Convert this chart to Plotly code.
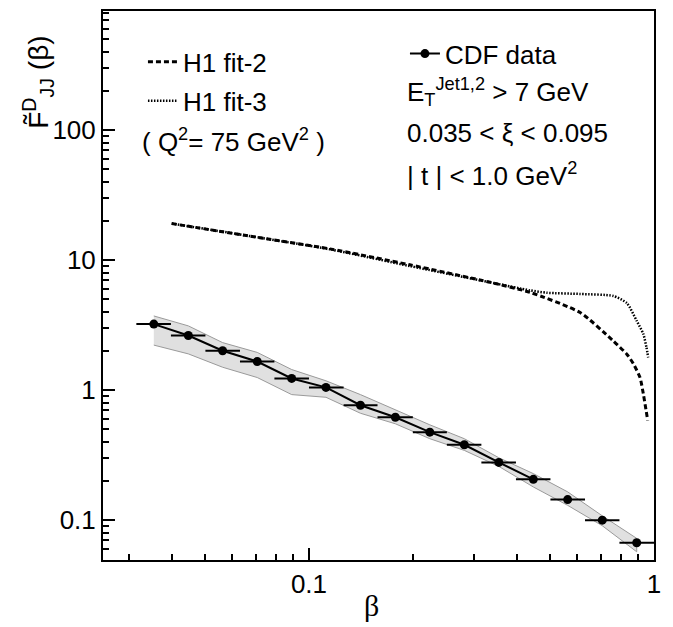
""" Diffractive structure function F_JJ^D(beta): CDF data vs H1 fits
"""

import plotly.graph_objects as go

# CDF data points
beta = [0.0355, 0.0447, 0.0562, 0.0708, 0.0891, 0.112, 0.141, 0.178,
        0.224, 0.282, 0.355, 0.447, 0.562, 0.708, 0.891]
beta_lo = [0.0316, 0.0398, 0.0501, 0.0631, 0.0794, 0.100, 0.126, 0.158,
           0.200, 0.251, 0.316, 0.398, 0.501, 0.631, 0.794]
beta_hi = [0.0398, 0.0501, 0.0631, 0.0794, 0.100, 0.126, 0.158, 0.200,
           0.251, 0.316, 0.398, 0.501, 0.631, 0.794, 1.000]
f_jj = [3.22, 2.63, 2.01, 1.66, 1.23, 1.05, 0.765, 0.619,
        0.475, 0.380, 0.278, 0.206, 0.144, 0.100, 0.067]
band_hi = [3.72, 3.12, 2.32, 1.95, 1.44, 1.18, 0.924, 0.705,
           0.541, 0.423, 0.302, 0.228, 0.165, 0.108, 0.0724]
band_lo = [2.22, 1.90, 1.50, 1.25, 0.924, 0.881, 0.664, 0.551,
           0.423, 0.344, 0.259, 0.180, 0.130, 0.0906, 0.0571]
n_line = 12  # the connecting line stops at the 12th point

# H1 fits (Q^2 = 75 GeV^2)
fit2_beta = [0.040, 0.0675, 0.115, 0.196, 0.335, 0.437, 0.611, 0.762,
             0.834, 0.871, 0.911, 0.931, 0.959]
fit2_val = [19.1, 15.3, 12.2, 9.2, 6.75, 5.65, 3.95, 2.39,
            1.89, 1.60, 1.25, 0.94, 0.584]
fit3_beta = [0.040, 0.0675, 0.115, 0.196, 0.335, 0.437, 0.489, 0.611,
             0.762, 0.834, 0.891, 0.931, 0.951, 0.962]
fit3_val = [19.1, 15.3, 12.1, 9.0, 6.75, 5.85, 5.61, 5.49,
            5.30, 4.68, 3.41, 2.71, 2.13, 1.78]

x_ticks = [0.1, 1]
x_ticktext = ['0.1', '1']
y_ticks = [0.1, 1, 10, 100]
y_ticktext = ['0.1', '1', '10', '100']

FONT = 'Liberation Sans, Arial, sans-serif'
FS = 26
x_minor = [m * 10 ** e for e in (-2, -1) for m in range(2, 10)]
y_minor = [m * 10 ** e for e in (-2, -1, 0, 1, 2) for m in range(2, 10)]

fig = go.Figure()

# uncertainty band
fig.add_trace(go.Scatter(x=beta + beta[::-1], y=band_hi + band_lo[::-1],
                         fill='toself', fillcolor='#e0e0e0',
                         line=dict(color='#9a9a9a', width=1),
                         mode='lines', showlegend=False, hoverinfo='skip'))

# H1 fits
fig.add_trace(go.Scatter(x=fit2_beta, y=fit2_val, mode='lines', name='H1 fit-2',
                         line=dict(color='black', width=3, dash='5px,3px',
                                   shape='spline', smoothing=0.6),
                         legend='legend', legendgroup='fit2'))
fig.add_trace(go.Scatter(x=fit3_beta, y=fit3_val, mode='lines', name='H1 fit-3',
                         line=dict(color='black', width=2.5, dash='1.5px,1.5px',
                                   shape='spline', smoothing=0.6),
                         legend='legend', legendgroup='fit3'))

# CDF data
fig.add_trace(go.Scatter(x=beta[:n_line], y=f_jj[:n_line], mode='lines',
                         line=dict(color='black', width=2), showlegend=False))
fig.add_trace(go.Scatter(
    x=beta, y=f_jj, mode='markers', showlegend=False,
    marker=dict(color='black', size=9),
    error_x=dict(type='data', symmetric=False,
                 array=[h - b for h, b in zip(beta_hi, beta)],
                 arrayminus=[b - l for b, l in zip(beta, beta_lo)],
                 color='black', thickness=2, width=0)))
fig.add_trace(go.Scatter(x=[None], y=[None], mode='lines+markers', name='CDF data',
                         line=dict(color='black', width=2),
                         marker=dict(color='black', size=9), legend='legend2'))

axis_common = dict(type='log', showline=True, linecolor='black', linewidth=2,
                   mirror=True, ticks='inside', ticklen=12, tickwidth=2,
                   tickcolor='black', showgrid=False, zeroline=False,
                   tickfont=dict(family=FONT, size=FS, color='black'))

# the page body adds 8px, margins compensate so the frame lands where it should
fig.update_layout(
    width=673, height=627,
    margin=dict(l=95, r=27, t=1, b=75),
    plot_bgcolor='white', paper_bgcolor='white',
    font=dict(family=FONT, size=FS, color='black'),
    xaxis=dict(range=[-1.597, 0], tickvals=x_ticks, ticktext=x_ticktext,
               minor=dict(tickvals=x_minor, ticks='inside', ticklen=6,
                          tickwidth=2, tickcolor='black'),
               **axis_common),
    yaxis=dict(range=[-1.3065, 2.916], tickvals=y_ticks, ticktext=y_ticktext,
               minor=dict(tickvals=y_minor, ticks='inside', ticklen=6,
                          tickwidth=2, tickcolor='black'),
               **axis_common),
    legend=dict(x=0.0725, y=0.95, xanchor='left', yanchor='top',
                bgcolor='rgba(0,0,0,0)', font=dict(size=FS),
                itemwidth=30, tracegroupgap=2, traceorder='grouped'),
    legend2=dict(x=0.548, y=0.965, xanchor='left', yanchor='top',
                 bgcolor='rgba(0,0,0,0)', font=dict(size=FS), itemwidth=30),
)

notes = [
    ('E<sub>T</sub><sup>Jet1,2</sup> > 7 GeV', 0.548, 0.852),
    ('0.035 < ξ < 0.095', 0.548, 0.777),
    ('| t | < 1.0 GeV<sup>2</sup>', 0.548, 0.702),
    ('( Q<sup>2</sup>= 75 GeV<sup>2</sup> )', 0.067, 0.764),
]
for text, x, y in notes:
    fig.add_annotation(text=text, x=x, y=y, xref='paper', yref='paper',
                       xanchor='left', yanchor='middle', showarrow=False,
                       font=dict(family=FONT, size=FS, color='black'))

# axis titles
fig.add_annotation(text='β', x=0.488, y=-0.082, xref='paper', yref='paper',
                   showarrow=False, xanchor='center', yanchor='middle',
                   font=dict(family='Liberation Serif, serif', size=30, color='black'))
fig.add_annotation(text='F\u0303<sup>D</sup><sub>JJ</sub> (β)', x=-0.118, y=0.871,
                   xref='paper', yref='paper', textangle=-90, showarrow=False,
                   xanchor='center', yanchor='middle',
                   font=dict(family=FONT, size=28, color='black'))

fig.write_html('out.html')
